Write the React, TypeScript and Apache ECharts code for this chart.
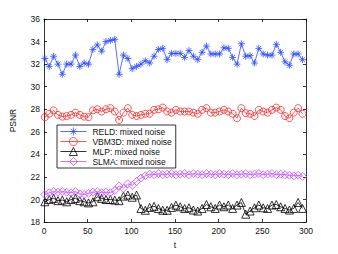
import React, { useEffect, useRef } from "react";
import * as echarts from "echarts";

const frames = [1, 6, 11, 16, 21, 26, 31, 36, 41, 46, 51, 56, 61, 66, 71, 76, 81, 86, 91, 96, 101, 106, 111, 116, 121, 126, 131, 136, 141, 146, 151, 156, 161, 166, 171, 176, 181, 186, 191, 196, 201, 206, 211, 216, 221, 226, 231, 236, 241, 246, 251, 256, 261, 266, 271, 276, 281, 286, 291, 296];

const reld = [32.5, 31.8, 32.7, 32.0, 31.1, 32.0, 32.0, 32.8, 31.8, 32.1, 32.0, 33.3, 33.7, 33.15, 34.0, 34.1, 34.2, 31.1, 32.8, 32.5, 31.6, 31.8, 32.0, 32.3, 32.1, 32.7, 33.3, 33.4, 32.4, 32.95, 32.95, 32.95, 32.6, 33.2, 32.7, 32.4, 33.05, 33.6, 32.9, 32.9, 32.9, 33.45, 33.4, 32.6, 32.0, 33.8, 32.7, 32.75, 32.1, 33.4, 32.9, 32.8, 32.8, 33.75, 33.05, 32.2, 31.9, 32.9, 32.9, 32.4];

const vbm3d = [27.3, 27.6, 27.9, 27.5, 27.35, 27.4, 27.5, 27.7, 27.5, 27.35, 27.3, 27.9, 28.0, 27.8, 28.0, 28.1, 27.8, 27.05, 27.7, 28.1, 27.5, 27.4, 27.5, 27.6, 27.6, 27.95, 28.0, 28.15, 27.8, 27.7, 27.95, 27.8, 27.8, 27.8, 27.7, 27.6, 27.95, 28.1, 27.7, 27.7, 27.8, 27.95, 27.8, 27.6, 27.2, 28.1, 27.65, 27.6, 27.4, 27.95, 27.8, 27.7, 27.95, 28.15, 27.95, 27.4, 27.2, 27.7, 28.1, 27.6];

const mlp = [19.8, 20.0, 20.1, 19.9, 19.95, 19.8, 20.0, 20.1, 19.9, 19.8, 19.7, 19.8, 20.25, 20.1, 20.0, 20.0, 19.95, 19.9, 20.3, 20.4, 20.2, 20.4, 19.2, 19.05, 19.3, 19.4, 19.2, 19.05, 19.05, 19.3, 19.5, 19.36, 19.2, 19.27, 19.07, 18.98, 19.21, 19.56, 19.36, 19.21, 19.51, 19.36, 19.51, 19.21, 19.51, 19.74, 18.7, 18.98, 19.27, 19.51, 19.27, 19.21, 19.51, 19.56, 19.36, 19.21, 19.07, 19.21, 19.74, 19.21];

const slma = [20.45, 20.6, 20.7, 20.65, 20.7, 20.65, 20.6, 20.7, 20.5, 20.45, 20.55, 20.65, 20.7, 20.6, 20.65, 20.6, 20.8, 21.2, 21.0, 21.4, 21.25, 21.6, 21.9, 22.1, 22.25, 22.2, 22.3, 22.2, 22.25, 22.3, 22.2, 22.25, 22.3, 22.2, 22.3, 22.25, 22.2, 22.3, 22.25, 22.2, 22.3, 22.25, 22.2, 22.3, 22.2, 22.25, 22.3, 22.2, 22.25, 22.3, 22.2, 22.25, 22.3, 22.2, 22.25, 22.2, 22.15, 22.1, 22.15, 22.05];

const seriesNames = ["RELD: mixed noise", "VBM3D: mixed noise", "MLP: mixed noise", "SLMA: mixed noise"];

const STAR = "path://M5,0L5,10M0,5L10,5M1.6,1.6L8.4,8.4M1.6,8.4L8.4,1.6";

export default function App() {
  const ref = useRef<HTMLDivElement>(null);
  useEffect(() => {
    if (!ref.current) return;
    const chart = echarts.init(ref.current, undefined, { renderer: "svg" });
    const font = "'Liberation Sans', Arial, sans-serif";
    const pairs = (ys: number[]) => frames.map((x, i) => [x, ys[i]]);
    const mk = (name: string, ys: number[], color: string, symbol: string, size: number) => ({
      name,
      type: "line",
      data: pairs(ys),
      xAxisIndex: 0,
      yAxisIndex: 0,
      symbol,
      symbolSize: size,
      showAllSymbol: true,
      lineStyle: { color, width: 0.8 },
      itemStyle: { color: "transparent", borderColor: color, borderWidth: 0.8 },
      emphasis: { disabled: true },
    });
    const axisCommon = {
      axisLine: { show: true, onZero: false, lineStyle: { color: "#000", width: 0.8 } },
      axisTick: { show: true, inside: true, length: 3, lineStyle: { color: "#000", width: 0.8 } },
      splitLine: { show: false },
    };
    chart.setOption({
      animation: false,
      textStyle: { fontFamily: font },
      grid: { left: 44, right: 32, top: 19, bottom: 28 },
      legend: {
        left: 57,
        top: 125,
        orient: "vertical",
        selectedMode: false,
        backgroundColor: "#fff",
        borderColor: "#000",
        borderWidth: 0.8,
        padding: [2, 4, 2, 3],
        itemGap: 1,
        itemWidth: 26,
        itemHeight: 10,
        itemStyle: { color: "transparent", borderWidth: 0.8 },
        lineStyle: { width: 0.8 },
        textStyle: { fontSize: 8.5, color: "#111", fontFamily: font, padding: [0, 0, 0, 1] },
        data: seriesNames,
      },
      xAxis: [
        {
          type: "value",
          min: 0,
          max: 300,
          interval: 50,
          position: "bottom",
          name: "t",
          nameLocation: "middle",
          nameGap: 15,
          nameTextStyle: { fontSize: 8.5, color: "#111" },
          axisLabel: { fontSize: 8.5, color: "#111", margin: 4 },
          ...axisCommon,
        },
        {
          type: "value",
          min: 0,
          max: 300,
          interval: 50,
          position: "top",
          axisLabel: { show: false },
          ...axisCommon,
        },
      ],
      yAxis: [
        {
          type: "value",
          min: 18,
          max: 36,
          interval: 2,
          position: "left",
          name: "PSNR",
          nameLocation: "middle",
          nameGap: 27,
          nameTextStyle: { fontSize: 8.5, color: "#111" },
          axisLabel: { fontSize: 8.5, color: "#111", margin: 4 },
          ...axisCommon,
        },
        {
          type: "value",
          min: 18,
          max: 36,
          interval: 2,
          position: "right",
          axisLabel: { show: false },
          ...axisCommon,
        },
      ],
      series: [
        mk(seriesNames[0], reld, "#2f4cff", STAR, 7),
        mk(seriesNames[1], vbm3d, "#ff2a2a", "circle", 7),
        mk(seriesNames[2], mlp, "#000000", "triangle", 8),
        mk(seriesNames[3], slma, "#c44cff", "diamond", 8),
      ],
    });
    return () => chart.dispose();
  }, []);
  return (
    <div
      ref={ref}
      style={{ position: "absolute", left: 0, top: 0, width: 338, height: 254, background: "#fff" }}
    />
  );
}
